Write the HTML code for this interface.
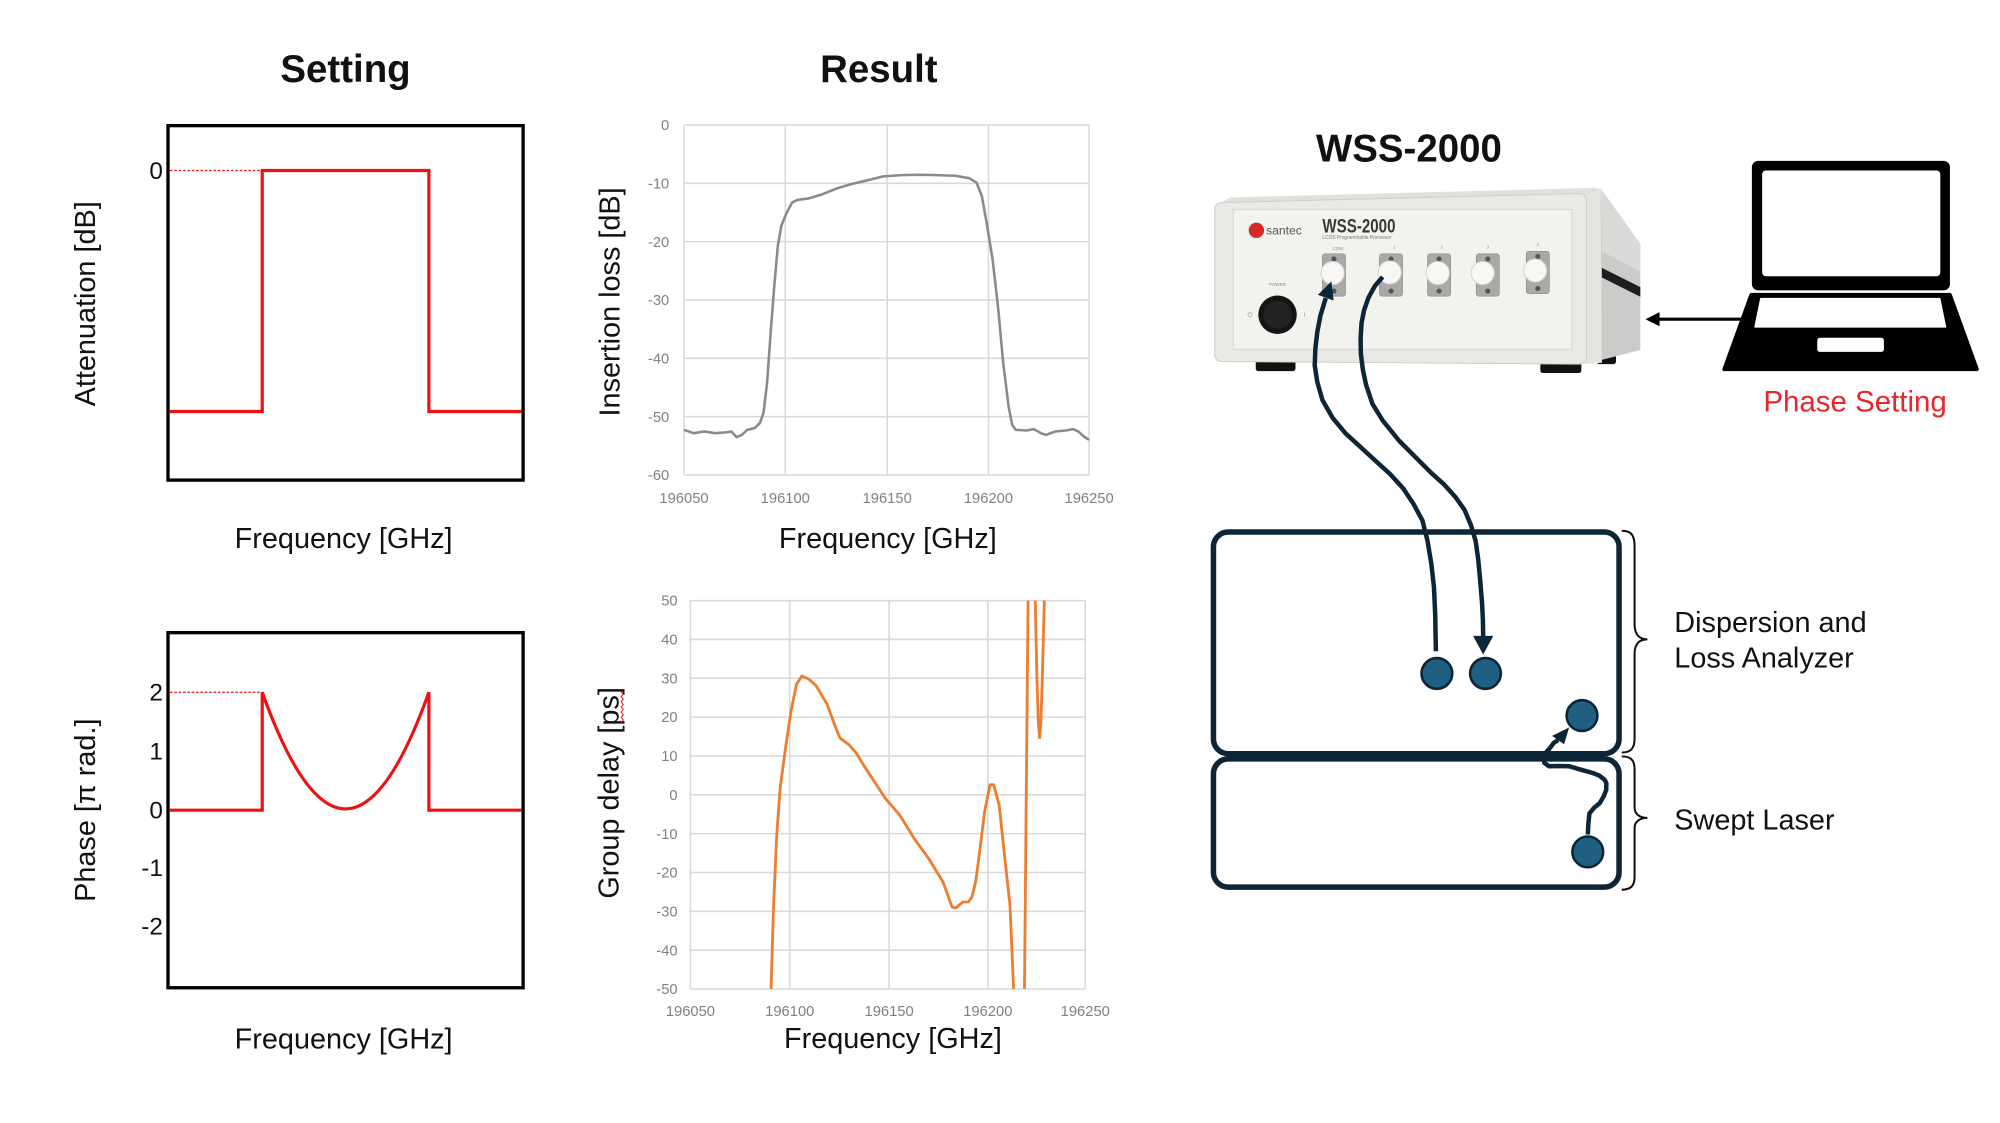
<!DOCTYPE html>
<html><head><meta charset="utf-8"><style>
html,body{margin:0;padding:0;background:#fff;}
svg{display:block;}
text{font-family:"Liberation Sans",Arial,sans-serif;}
</style></head><body>
<svg width="2000" height="1123" viewBox="0 0 1560 876" xmlns="http://www.w3.org/2000/svg">
<rect width="1560" height="876" fill="#fff"/>

<!-- Titles -->
<text x="269.5" y="64" font-size="30" font-weight="bold" text-anchor="middle" fill="#111">Setting</text>

<!-- ===== Setting chart 1 ===== -->
<rect x="131" y="98" width="277" height="276.5" fill="none" stroke="#000" stroke-width="2.6"/>
<line x1="132.5" y1="133" x2="204" y2="133" stroke="#e81010" stroke-width="1" stroke-dasharray="2,1.4"/>
<polyline points="132,321 204.5,321 204.5,133 334.5,133 334.5,321 407,321" fill="none" stroke="#ee1111" stroke-width="2.5"/>
<text x="127" y="139.5" font-size="19" text-anchor="end" fill="#111">0</text>
<text transform="translate(74,237) rotate(-90)" font-size="22.5" text-anchor="middle" fill="#111">Attenuation [dB]</text>
<text x="268" y="427.5" font-size="22.5" text-anchor="middle" fill="#111">Frequency [GHz]</text>

<!-- ===== Setting chart 2 ===== -->
<rect x="131" y="493.5" width="277" height="277" fill="none" stroke="#000" stroke-width="2.6"/>
<line x1="132.5" y1="540" x2="204" y2="540" stroke="#e81010" stroke-width="1" stroke-dasharray="2,1.4"/>
<path d="M132,632 L204.5,632 L204.5,540 Q269.5,722 334.5,540 L334.5,632 L407,632" fill="none" stroke="#ee1111" stroke-width="2.5" stroke-linejoin="miter"/>
<text x="127" y="546.5" font-size="19" text-anchor="end" fill="#111">2</text>
<text x="127" y="592.5" font-size="19" text-anchor="end" fill="#111">1</text>
<text x="127" y="638.5" font-size="19" text-anchor="end" fill="#111">0</text>
<text x="127" y="683.5" font-size="19" text-anchor="end" fill="#111">-1</text>
<text x="127" y="729" font-size="19" text-anchor="end" fill="#111">-2</text>
<text transform="translate(74,632) rotate(-90)" font-size="22.5" text-anchor="middle" fill="#111">Phase [π rad.]</text>
<text x="268" y="818" font-size="22.5" text-anchor="middle" fill="#111">Frequency [GHz]</text>

<g transform="translate(-3.5,-1.5)">
<text x="689" y="65.5" font-size="30" font-weight="bold" text-anchor="middle" fill="#111">Result</text>

<!-- ===== Result chart 1: Insertion loss ===== -->
<g stroke="#d9d9d9" stroke-width="1.2" fill="none">
  <line x1="537" y1="99" x2="853" y2="99"/>
  <line x1="537" y1="144.5" x2="853" y2="144.5"/>
  <line x1="537" y1="190" x2="853" y2="190"/>
  <line x1="537" y1="235.5" x2="853" y2="235.5"/>
  <line x1="537" y1="281" x2="853" y2="281"/>
  <line x1="537" y1="326.5" x2="853" y2="326.5"/>
  <line x1="537" y1="372" x2="853" y2="372"/>
  <line x1="537" y1="99" x2="537" y2="372"/>
  <line x1="616" y1="99" x2="616" y2="372"/>
  <line x1="695.5" y1="99" x2="695.5" y2="372"/>
  <line x1="774.5" y1="99" x2="774.5" y2="372"/>
  <line x1="853" y1="99" x2="853" y2="372"/>
</g>
<g font-size="11.5" fill="#808080" text-anchor="end">
  <text x="525.5" y="103">0</text>
  <text x="525.5" y="148.5">-10</text>
  <text x="525.5" y="194">-20</text>
  <text x="525.5" y="239.5">-30</text>
  <text x="525.5" y="285">-40</text>
  <text x="525.5" y="330.5">-50</text>
  <text x="525.5" y="376">-60</text>
</g>
<g font-size="11.5" fill="#808080" text-anchor="middle">
  <text x="537" y="394">196050</text>
  <text x="616" y="394">196100</text>
  <text x="695.5" y="394">196150</text>
  <text x="774.5" y="394">196200</text>
  <text x="853" y="394">196250</text>
</g>
<polyline fill="none" stroke="#8a8a8a" stroke-width="2" stroke-linejoin="round" points="537,336.8 544.5,339.4 552.9,338.1 561.3,339.4 569.7,338.8 573.9,338.1 578,342.5 582.2,340.7 586.4,336.8 592,335.5 596.2,331.5 599,323.7 601.8,300.3 604.6,261.2 607.4,224.7 610.2,193.4 612.9,177.7 616.6,168.6 621.3,159.5 625.5,157.4 633.9,156.4 645,153 656.2,148.5 667.4,145.1 678.6,142.5 692.5,139.1 706.5,138.1 720.4,137.8 734.4,138.1 748.4,138.6 759.5,140.5 765.1,143.8 769.3,154.3 773.5,177.7 777.7,203.8 781.9,240.3 786,284.6 790.2,318.5 793,332.9 795.8,336.8 804.2,337.3 809.8,336.2 815.4,339.4 819.5,340.7 826.5,338.1 834.9,337.3 840.5,336.2 844.7,338.1 848.9,342 853,344.6"/>
<text transform="translate(486.5,237) rotate(-90)" font-size="22.5" text-anchor="middle" fill="#111">Insertion loss [dB]</text>
<text x="696" y="429" font-size="22.5" text-anchor="middle" fill="#111">Frequency [GHz]</text>

<!-- ===== Result chart 2: Group delay ===== -->
<g stroke="#d9d9d9" stroke-width="1.2" fill="none">
  <line x1="542" y1="470" x2="850" y2="470"/>
  <line x1="542" y1="500.3" x2="850" y2="500.3"/>
  <line x1="542" y1="530.6" x2="850" y2="530.6"/>
  <line x1="542" y1="560.9" x2="850" y2="560.9"/>
  <line x1="542" y1="591.2" x2="850" y2="591.2"/>
  <line x1="542" y1="621.5" x2="850" y2="621.5"/>
  <line x1="542" y1="651.8" x2="850" y2="651.8"/>
  <line x1="542" y1="682.1" x2="850" y2="682.1"/>
  <line x1="542" y1="712.4" x2="850" y2="712.4"/>
  <line x1="542" y1="742.7" x2="850" y2="742.7"/>
  <line x1="542" y1="773" x2="850" y2="773"/>
  <line x1="542" y1="470" x2="542" y2="773"/>
  <line x1="619.5" y1="470" x2="619.5" y2="773"/>
  <line x1="697" y1="470" x2="697" y2="773"/>
  <line x1="774" y1="470" x2="774" y2="773"/>
  <line x1="850" y1="470" x2="850" y2="773"/>
</g>
<g font-size="11.5" fill="#808080" text-anchor="end">
  <text x="532" y="474">50</text>
  <text x="532" y="504.3">40</text>
  <text x="532" y="534.6">30</text>
  <text x="532" y="564.9">20</text>
  <text x="532" y="595.2">10</text>
  <text x="532" y="625.5">0</text>
  <text x="532" y="655.8">-10</text>
  <text x="532" y="686.1">-20</text>
  <text x="532" y="716.4">-30</text>
  <text x="532" y="746.7">-40</text>
  <text x="532" y="777">-50</text>
</g>
<g font-size="11.5" fill="#808080" text-anchor="middle">
  <text x="542" y="794">196050</text>
  <text x="619.5" y="794">196100</text>
  <text x="697" y="794">196150</text>
  <text x="774" y="794">196200</text>
  <text x="850" y="794">196250</text>
</g>
<polyline fill="none" stroke="#ed7d31" stroke-width="2.2" stroke-linejoin="round" points="604.9,773 606.9,707.7 609.2,655.5 612,616.3 616.2,584.9 620.5,556.2 624.7,535.3 629,528.8 634.6,531.4 640.2,536.6 648.7,551 654.4,566.6 658.6,577.1 665.6,582.3 671.3,588.8 676.9,598 685.4,611 693.9,624.1 705.2,637.2 716.5,655.5 727.8,671.1 739,689.4 746.1,709 748.9,709.8 754.6,705.1 758.8,705.1 761.6,701.2 764.5,689.4 767.3,668.5 771.5,634.6 775.7,613.7 778.6,613.7 782.8,629.3 787,668.5 791.3,707.7 794.1,773"/>
<polyline fill="none" stroke="#ed7d31" stroke-width="2.2" points="802.6,773 805.4,470"/>
<polyline fill="none" stroke="#ed7d31" stroke-width="2.2" stroke-linejoin="round" points="811,470 812.3,530 813.4,565 814.4,577 815.4,565 816.5,530 818.1,470"/>
<text transform="translate(486,620) rotate(-90)" font-size="22.5" text-anchor="middle" fill="#111">Group delay [ps]</text>
<polyline fill="none" stroke="#e02020" stroke-width="0.8" points="488,541 489.6,543 488,545 489.6,547 488,549 489.6,551 488,553 489.6,555 488,557 489.6,559 488,561 489.6,563 488,565"/>
<text x="700" y="819" font-size="22.5" text-anchor="middle" fill="#111">Frequency [GHz]</text>
</g>

<g transform="translate(-3.5,0)">
<text x="1102.5" y="126" font-size="30" font-weight="bold" text-anchor="middle" fill="#111">WSS-2000</text>

<!-- ===== WSS-2000 device ===== -->
<g>
  <rect x="983" y="279" width="31" height="10.5" rx="2" fill="#111"/>
  <rect x="1205" y="280" width="32" height="11" rx="2" fill="#111"/>
  <rect x="1249" y="274" width="15" height="10" rx="2" fill="#111"/>
  <path d="M1238,150 L1252,147 L1283,190 L1283,273 L1240,284 Z" fill="#cbcbc9"/>
  <path d="M1252,147 L1283,190 L1283,212 L1253,196 Z" fill="#dadad8"/>
  <path d="M1240,151 L1252,147 L1253,283 L1240,284 Z" fill="#e4e4e1"/>
  <path d="M1253,209 L1283,224 L1283,231.5 L1253,216.5 Z" fill="#1e1e1e"/>
  <path d="M953,160 L963,154 L1250,146.5 L1240,152 Z" fill="#e0e0dc"/>
  <path d="M951,164 Q951,158 957,158 L1235,151 Q1241,151 1241,157 L1241,279 Q1241,284 1235,284 L957,282 Q951,282 951,276 Z" fill="#e9e9e5" stroke="#cfcfcb" stroke-width="0.8"/>
  <rect x="965.5" y="163.5" width="264" height="109" fill="#f2f2ef" stroke="#d8d8d4" stroke-width="0.8"/>
  <circle cx="983.5" cy="179.7" r="6" fill="#d42a2a"/>
  <text x="991" y="183" font-size="9.5" fill="#555">santec</text>
  <text x="1035" y="181.5" font-size="15" font-weight="bold" fill="#3a3a3a" textLength="57" lengthAdjust="spacingAndGlyphs">WSS-2000</text>
  <text x="1035" y="186.5" font-size="4" fill="#777" textLength="54" lengthAdjust="spacingAndGlyphs">LCOS Programmable Processor</text>
  <g font-size="3.5" fill="#888" text-anchor="middle">
    <text x="1047" y="195">COM</text>
    <text x="1091" y="194">1</text>
    <text x="1128" y="194">2</text>
    <text x="1164" y="194">3</text>
    <text x="1203" y="192">4</text>
    <text x="1000" y="223">POWER</text>
  </g>
  <g>
    <rect x="1035" y="198" width="18" height="33" rx="2" fill="#a9a9a7" stroke="#8a8a88" stroke-width="0.5"/>
    <circle cx="1044" cy="202" r="2" fill="#555"/><circle cx="1044" cy="227" r="2" fill="#555"/>
    <circle cx="1043" cy="213" r="9" fill="#f7f7f6" stroke="#d5d5d3" stroke-width="0.8"/>

    <rect x="1079.5" y="198" width="18" height="33" rx="2" fill="#a9a9a7" stroke="#8a8a88" stroke-width="0.5"/>
    <circle cx="1088.5" cy="202" r="2" fill="#555"/><circle cx="1088.5" cy="227" r="2" fill="#555"/>
    <circle cx="1087.5" cy="212.5" r="9" fill="#f7f7f6" stroke="#d5d5d3" stroke-width="0.8"/>

    <rect x="1117" y="198" width="18" height="33" rx="2" fill="#a9a9a7" stroke="#8a8a88" stroke-width="0.5"/>
    <circle cx="1126" cy="202" r="2" fill="#555"/><circle cx="1126" cy="227" r="2" fill="#555"/>
    <circle cx="1125" cy="213" r="9" fill="#f7f7f6" stroke="#d5d5d3" stroke-width="0.8"/>

    <rect x="1155" y="198" width="18" height="33" rx="2" fill="#a9a9a7" stroke="#8a8a88" stroke-width="0.5"/>
    <circle cx="1164" cy="202" r="2" fill="#555"/><circle cx="1164" cy="227" r="2" fill="#555"/>
    <circle cx="1160" cy="213" r="9" fill="#f7f7f6" stroke="#d5d5d3" stroke-width="0.8"/>

    <rect x="1194" y="196" width="18" height="33" rx="2" fill="#a9a9a7" stroke="#8a8a88" stroke-width="0.5"/>
    <circle cx="1203" cy="200" r="2" fill="#555"/><circle cx="1203" cy="225" r="2" fill="#555"/>
    <circle cx="1201" cy="211" r="9" fill="#f7f7f6" stroke="#d5d5d3" stroke-width="0.8"/>
  </g>
  <circle cx="1000" cy="245.5" r="15" fill="#141414"/>
  <circle cx="1000" cy="245.5" r="11" fill="#222"/>
  <circle cx="978.5" cy="245.5" r="1.6" fill="none" stroke="#999" stroke-width="0.5"/>
  <line x1="1021" y1="244" x2="1021" y2="247" stroke="#999" stroke-width="0.5"/>
</g>

<!-- ===== Laptop ===== -->
<g>
  <rect x="1370" y="125.5" width="154.5" height="101" rx="5" fill="#000"/>
  <rect x="1378" y="133" width="139" height="82.5" rx="3" fill="#fff"/>
  <path d="M1369.5,230 L1524.5,230 L1545.5,288 L1348.5,288 Z" fill="#000" stroke="#000" stroke-width="3" stroke-linejoin="round"/>
  <path d="M1377,233 L1516.5,233 L1521,255 L1372.5,255 Z" fill="#fff" stroke="#fff" stroke-width="1.2" stroke-linejoin="round"/>
  <rect x="1421" y="263.5" width="52" height="11" rx="2" fill="#fff"/>
  <line x1="1363" y1="249" x2="1296" y2="249" stroke="#000" stroke-width="2.4"/>
  <path d="M1287,249 L1298,243.5 L1298,254.5 Z" fill="#000"/>
  <text x="1450.5" y="321" font-size="23" text-anchor="middle" fill="#e8262b">Phase Setting</text>
</g>

<!-- ===== Analyzer boxes ===== -->
<g fill="none" stroke="#0c2537" stroke-width="4.3">
  <rect x="950" y="415" width="316.4" height="173" rx="11.5"/>
  <rect x="950" y="592" width="316.4" height="100" rx="11.5"/>
</g>

<g fill="none" stroke="#0c2537" stroke-width="3.5" stroke-linejoin="round">
  <polyline points="1123.5,508 1123,480 1122,458 1120,440 1117,422 1113,406 1106,393 1098,381 1088,370 1077,360 1065,349 1053,338 1043,326 1035,312 1031,298 1029,285 1029.5,272 1031,259 1033.5,246 1037.6,232.5"/>
  <polyline points="1082,216 1076,223 1071,232 1067.5,242 1065.5,252 1064.8,264 1065,276 1066.5,288 1069,300 1074,315 1082,328 1095,344 1108,357 1120,369 1130,378 1139,388 1146,398 1151,410 1154.5,422 1156.5,436 1158,452 1159.5,470 1160.2,484 1160.4,497"/>
  <polyline points="1242,651 1242.5,642 1243.3,634.5 1247,630 1251.2,626.7 1254.5,621 1256.4,616.1 1256.5,611 1255.1,608.2 1251,605 1245.9,603 1237,600.5 1227.5,597.7 1219,597.5 1211.7,597.7 1208,595 1207.7,592.4 1208.5,588 1211.7,584.5 1215.5,579.5 1218.9,577.3"/>
</g>
<g fill="#0c2537">
  <path d="M1042,219.5 L1043.7,234.4 L1031.5,230 Z"/>
  <path d="M1160.4,510.5 L1152.5,496 L1168.3,496 Z"/>
  <path d="M1227.5,567.4 L1214.2,574 L1223.5,580.6 Z"/>
</g>

<g fill="#1e5f82" stroke="#0c2537" stroke-width="2">
  <circle cx="1124.3" cy="525.3" r="12"/>
  <circle cx="1162.2" cy="525.3" r="12"/>
  <circle cx="1237.5" cy="558.2" r="12"/>
  <circle cx="1242" cy="664.5" r="12"/>
</g>
</g>

<!-- braces -->
<g fill="none" stroke="#111" stroke-width="1.6">
  <path d="M1265,414 C1272,414 1275,417 1275,426 L1275,487 C1275,495 1279,498.7 1285,498.7 C1279,498.7 1275,502 1275,510 L1275,576 C1275,584 1272,587 1265,587"/>
  <path d="M1265,590 C1272,590 1275,593 1275,600 L1275,630 C1275,635 1279,638 1285,638 C1279,638 1275,641 1275,646 L1275,684 C1275,691 1272,694 1265,694"/>
</g>
<g font-size="22.5" fill="#111">
  <text x="1306" y="493">Dispersion and</text>
  <text x="1306" y="520.5">Loss Analyzer</text>
  <text x="1306" y="647">Swept Laser</text>
</g>
</svg>
</body></html>
